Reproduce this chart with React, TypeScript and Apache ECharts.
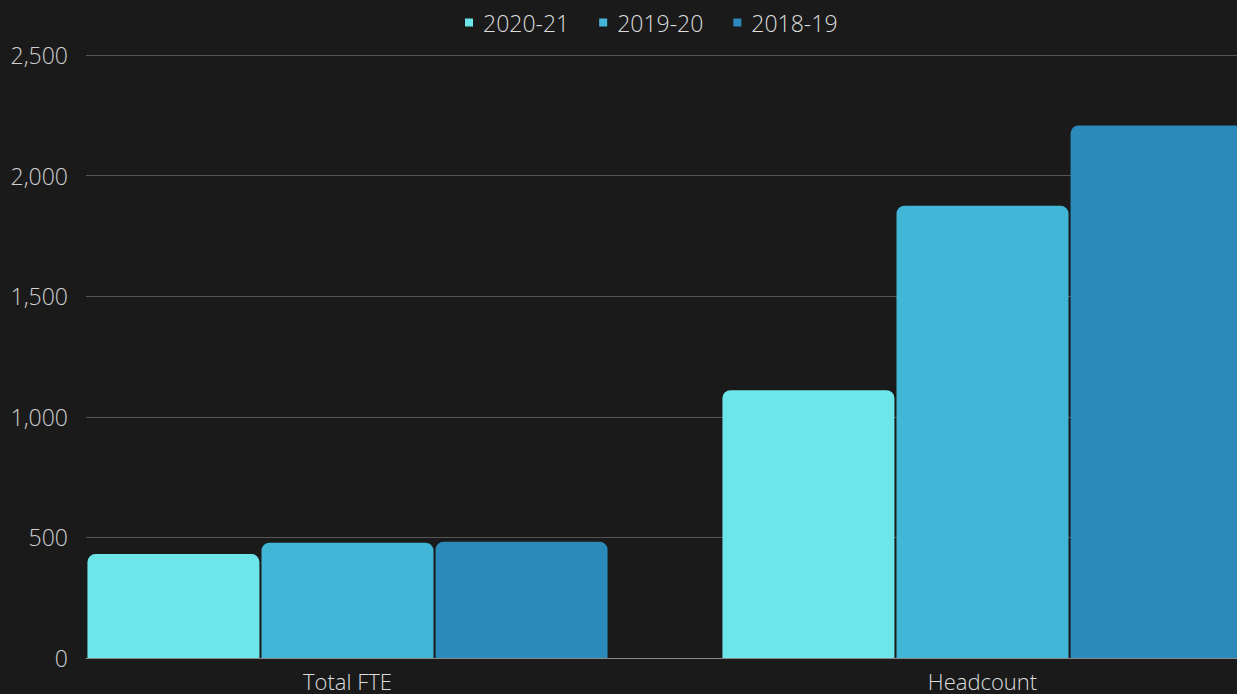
import React, { useEffect, useRef } from "react";
import * as echarts from "echarts";

const categories = ["Total FTE", "Headcount"];
const seriesNames = ["2020-21", "2019-20", "2018-19"];
const values2020_21 = [431, 1110];
const values2019_20 = [478, 1875];
const values2018_19 = [482, 2208];
const colors = ["#6ce6e9", "#42b6d6", "#2b8aba"];

export default function App() {
  const ref = useRef<HTMLDivElement>(null);
  useEffect(() => {
    if (!ref.current) return;
    const chart = echarts.init(ref.current, null, { renderer: "svg" });
    const font = "'Open Sans', sans-serif";
    const data = [values2020_21, values2019_20, values2018_19];
    chart.setOption({
      animation: false,
      backgroundColor: "#1a1a1a",
      legend: {
        top: 6,
        left: 460,
        icon: "rect",
        itemWidth: 8,
        itemHeight: 8,
        itemGap: 30,
        data: seriesNames,
        textStyle: {
          color: "#dddddd",
          fontFamily: font,
          fontSize: 23,
          fontWeight: 300,
          padding: [0, 0, 0, 5],
        },
      },
      grid: [
        {
          left: 30,
          width: 1270,
          top: 55,
          bottom: 36,
          containLabel: false,
          outerBoundsMode: "none",
        },
        {
          left: 86,
          right: 0,
          top: 55,
          bottom: 36,
          containLabel: false,
          outerBoundsMode: "none",
        },
      ],
      xAxis: [
        {
          type: "category",
          gridIndex: 0,
          data: categories,
          axisLine: { show: false },
          axisTick: { show: false },
          axisLabel: {
            color: "#dddddd",
            fontFamily: font,
            fontSize: 22,
            fontWeight: 300,
            margin: 12,
          },
        },
        {
          type: "category",
          gridIndex: 1,
          data: categories,
          axisLine: { show: true, lineStyle: { color: "#8a8a8a", width: 1 } },
          axisTick: { show: false },
          axisLabel: { show: false },
        },
      ],
      yAxis: [
        {
          type: "value",
          gridIndex: 0,
          min: 0,
          max: 2500,
          interval: 500,
          show: false,
          splitLine: { show: false },
        },
        {
          type: "value",
          gridIndex: 1,
          min: 0,
          max: 2500,
          interval: 500,
          axisLine: { show: false },
          axisTick: { show: false },
          splitLine: { show: true, lineStyle: { color: "#555555", width: 1 } },
          axisLabel: {
            color: "#d0d0d0",
            fontFamily: font,
            fontSize: 23,
            fontWeight: 300,
            margin: 18,
            formatter: (v: number) => v.toLocaleString("en-US"),
          },
        },
      ],
      series: seriesNames.map((name, i) => ({
        name,
        type: "bar",
        xAxisIndex: 0,
        yAxisIndex: 0,
        data: data[i],
        barWidth: 172,
        barGap: "1.2%",
        itemStyle: { color: colors[i], borderRadius: [8, 8, 0, 0] },
      })),
    });
    return () => chart.dispose();
  }, []);
  return (
    <div
      ref={ref}
      style={{ position: "fixed", left: 0, top: 0, width: 1237, height: 694 }}
    />
  );
}
